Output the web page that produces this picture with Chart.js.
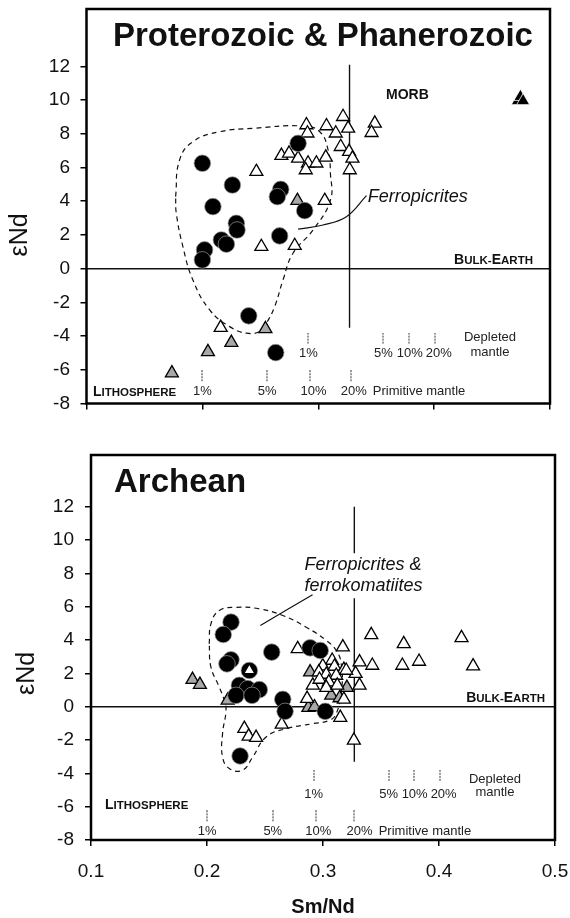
<!DOCTYPE html>
<html>
<head>
<meta charset="utf-8">
<script src="https://cdn.jsdelivr.net/npm/chart.js@4.4.0/dist/chart.umd.min.js"></script>
<style>
  html, body { margin: 0; padding: 0; background: #fff; }
  #wrap { position: relative; width: 570px; height: 918px; }
  canvas { position: absolute; left: 0; }
  #cTop { top: 0; }
  #cBot { top: 430px; }
</style>
</head>
<body>
<div id="wrap">
  <canvas id="cTop" width="570" height="430"></canvas>
  <canvas id="cBot" width="570" height="488"></canvas>
</div>
<script>
const FONT = "'Liberation Sans', Arial, Helvetica, sans-serif";

// Axis ticks
const yTicks = [-8, -6, -4, -2, 0, 2, 4, 6, 8, 10, 12];
const xTicks = [0.1, 0.2, 0.3, 0.4, 0.5];

// ---------- Proterozoic & Phanerozoic ----------
const pCircleX = [0.2826, 0.2000, 0.2259, 0.2676, 0.2647, 0.2091, 0.2883, 0.2293, 0.2299, 0.2164, 0.2207, 0.2667, 0.2019, 0.2000, 0.2400, 0.2633];
const pCircleY = [7.43, 6.25, 4.96, 4.70, 4.27, 3.68, 3.44, 2.69, 2.29, 1.70, 1.45, 1.94, 1.11, 0.52, -2.80, -4.98];

const pOpenX = [0.2898, 0.2907, 0.3071, 0.3151, 0.3214, 0.3258, 0.3488, 0.3460, 0.3194, 0.3266, 0.3295, 0.3272,
                0.2682, 0.2748, 0.2826, 0.2912, 0.2984, 0.3065, 0.2892, 0.2466, 0.3056, 0.2509, 0.2797, 0.2158];
const pOpenY = [8.52, 8.03, 8.46, 8.03, 9.01, 8.32, 8.62, 8.06, 7.23, 6.94, 6.54, 5.85,
                6.70, 6.84, 6.54, 6.25, 6.25, 6.60, 5.85, 5.75, 4.03, 1.30, 1.36, -3.50];

const pGreyX = [0.2820, 0.2544, 0.2250, 0.2048, 0.1737];
const pGreyY = [4.03, -3.57, -4.39, -4.94, -6.20];

const morbX = [0.4722, 0.4745, 0.4768];
const morbY = [9.95, 10.2, 9.95];

// Ferropicrite field outline
const pEnvX = [0.1769, 0.1803, 0.1918, 0.2149, 0.2437, 0.2869, 0.3013, 0.3085, 0.3105, 0.3105, 0.2955, 0.2782,
               0.2696, 0.2624, 0.2552, 0.2495, 0.2380, 0.2235, 0.2063, 0.1918, 0.1832, 0.1775, 0.1769];
const pEnvY = [4.27, 6.44, 7.53, 8.12, 8.32, 8.46, 8.12, 7.04, 5.66, 4.07, 2.29, 0.91,
               -0.67, -2.25, -3.24, -3.73, -3.83, -3.44, -2.45, -0.67, 1.30, 3.28, 4.27];

// Leader from the "Ferropicrites" label
const pLeadX = [0.3416, 0.3243, 0.3041, 0.2826];
const pLeadY = [4.33, 3.08, 2.59, 2.34];

// Mixing-model steps
const pctLabels = ['1%', '5%', '10%', '20%'];
const pDmX = [0.2915, 0.3563, 0.3785, 0.4010];
const pDmLabelX = [0.2915, 0.3563, 0.3790, 0.4040];
const pPmX = [0.2000, 0.2560, 0.2930, 0.3280];
const pPmLabelX = [0.2000, 0.2560, 0.2960, 0.3307];

// ---------- Archean ----------
const aCircleX = [0.2207, 0.2140, 0.2558, 0.2889, 0.2976, 0.2207, 0.2172, 0.2365, 0.2279, 0.2350, 0.2451, 0.2250, 0.2388, 0.2653, 0.2673, 0.3019, 0.2285];
const aCircleY = [5.07, 4.33, 3.27, 3.53, 3.37, 2.81, 2.57, 2.17, 1.28, 1.08, 1.02, 0.68, 0.68, 0.44, -0.28, -0.28, -2.96];

const aOpenX = [0.2782, 0.3171, 0.3416, 0.3696, 0.4194, 0.3315, 0.3425, 0.3684, 0.3828, 0.4294, 0.3281, 0.3315,
                0.2912, 0.2863, 0.2644, 0.3149, 0.3266, 0.2322, 0.2359, 0.2423, 0.3079, 0.2998, 0.3099, 0.3180,
                0.2964, 0.3028, 0.3114, 0.3200, 0.2970, 0.3050, 0.3028, 0.3123, 0.3180];
const aOpenY = [3.47, 3.57, 4.31, 3.77, 4.13, 2.67, 2.47, 2.47, 2.71, 2.43, 1.98, 1.28,
                1.28, 0.48, -1.06, -0.66, -2.02, -1.32, -1.78, -1.86, 2.77, 2.43, 2.41, 2.22,
                2.07, 1.93, 1.87, 2.17, 1.63, 1.47, 1.14, 1.28, 0.44];

const aGreyX = [0.1875, 0.1939, 0.2178, 0.2889, 0.3206, 0.3071, 0.3143, 0.2874, 0.2927];
const aGreyY = [1.62, 1.32, 0.38, 2.07, 1.14, 0.68, 0.52, -0.06, -0.02];

// open triangle plotted over a ferropicrite symbol
const aInnerX = [0.2365];
const aInnerY = [2.17];

const aEnvX = [0.2019, 0.2034, 0.2106, 0.2250, 0.2451, 0.2653, 0.2855, 0.3028, 0.3114, 0.3157, 0.3160, 0.3114,
               0.3056, 0.2912, 0.2682, 0.2509, 0.2394, 0.2307, 0.2192, 0.2134, 0.2134, 0.2164, 0.2149, 0.2106,
               0.2034, 0.2019];
const aEnvY = [3.77, 4.97, 5.77, 5.96, 5.87, 5.47, 4.77, 3.97, 3.37, 2.57, 0.98, -0.42,
               -0.82, -1.02, -1.32, -1.82, -3.02, -3.81, -3.71, -3.02, -1.62, -0.22, 0.38, 1.17,
               2.37, 3.77];

const aLeadX = [0.2910, 0.2460];
const aLeadY = [6.72, 4.87];

const aDmX = [0.2920, 0.3566, 0.3785, 0.4007];
const aDmLabelX = [0.2920, 0.3566, 0.3790, 0.4040];
const aPmX = [0.2002, 0.2572, 0.2940, 0.3270];
const aPmLabelX = [0.2002, 0.2567, 0.2960, 0.3315];

// Reference lines
const bulkEarth = 0;
const chondriteSmNd = 0.327;

// ---------- helpers ----------
const pts = (xs, ys) => xs.map((x, i) => ({ x: x, y: ys[i] }));
const flat = (xs, y) => xs.map(x => ({ x: x, y: y }));

function dashMark() {
  const c = document.createElement('canvas');
  c.width = 2; c.height = 12;
  const g = c.getContext('2d');
  g.fillStyle = '#9a9a9a';
  for (let y = 0; y < 12; y += 3) g.fillRect(0, y, 2, 2);
  return c;
}
const MARK = dashMark();

function lineDs(data, opts) {
  return Object.assign({
    data: data, showLine: true, pointRadius: 0, borderColor: '#111', borderWidth: 1.4,
    fill: false, tension: 0, order: 20
  }, opts || {});
}
function ptDs(data, style, bg, order, r, border, bw) {
  return {
    data: data, showLine: false, pointStyle: style, pointRadius: r, pointHoverRadius: r,
    backgroundColor: bg, borderColor: border || '#000', borderWidth: bw || 1.3,
    order: order
  };
}

function smallCaps(ctx, parts, x, y, align) {
  let w = 0;
  parts.forEach(p => { ctx.font = 'bold ' + p[1] + 'px ' + FONT; w += ctx.measureText(p[0]).width; });
  let cx = align === 'right' ? x - w : (align === 'center' ? x - w / 2 : x);
  ctx.textAlign = 'left';
  ctx.textBaseline = 'alphabetic';
  parts.forEach(p => {
    ctx.font = 'bold ' + p[1] + 'px ' + FONT;
    ctx.fillText(p[0], cx, y);
    cx += ctx.measureText(p[0]).width;
  });
}

function decorPlugin(spec) {
  return {
    id: 'decor',
    afterDatasetsDraw(chart) {
      const ctx = chart.ctx, a = chart.chartArea;
      const X = v => chart.scales.x.getPixelForValue(v);
      const Y = v => chart.scales.y.getPixelForValue(v);
      ctx.save();
      ctx.fillStyle = '#111';
      // frame
      ctx.strokeStyle = '#000';
      ctx.lineWidth = 2.5;
      ctx.strokeRect(a.left, a.top, a.right - a.left, a.bottom - a.top);
      // panel title
      ctx.font = 'bold 33px ' + FONT;
      ctx.textAlign = 'left';
      ctx.textBaseline = 'middle';
      ctx.fillText(spec.title, a.left + spec.titleDx, a.top + spec.titleDy);
      // italic field label
      ctx.font = 'italic 18px ' + FONT;
      spec.field.forEach(f => ctx.fillText(f[0], X(f[1]), Y(f[2])));
      // MORB
      if (spec.morb) {
        ctx.font = 'bold 14px ' + FONT;
        ctx.textAlign = 'center';
        ctx.fillText('MORB', X(spec.morb[0]), Y(spec.morb[1]));
      }
      // Bulk Earth and lithosphere
      smallCaps(ctx, [['B', 14], ['ULK-', 11.5], ['E', 14], ['ARTH', 11.5]], X(spec.bulk[0]), Y(spec.bulk[1]) + 5, 'right');
      smallCaps(ctx, [['L', 14], ['ITHOSPHERE', 11.5]], X(spec.litho[0]), Y(spec.litho[1]) + 5, 'center');
      // mixing-model labels
      ctx.font = '13px ' + FONT;
      ctx.textAlign = 'center';
      ctx.textBaseline = 'middle';
      ctx.fillStyle = '#222';
      spec.dmLabelX.forEach((x, i) => ctx.fillText(pctLabels[i], X(x), Y(spec.dmLabelY)));
      spec.pmLabelX.forEach((x, i) => ctx.fillText(pctLabels[i], X(x), Y(spec.pmLabelY)));
      ctx.fillText('Depleted', X(spec.dmText[0]), Y(spec.dmText[1]));
      ctx.fillText('mantle', X(spec.dmText[0]), Y(spec.dmText[2]));
      ctx.textAlign = 'left';
      ctx.fillText('Primitive mantle', X(spec.pmText[0]), Y(spec.pmText[1]));
      // y title
      ctx.fillStyle = '#111';
      ctx.save();
      ctx.translate(spec.yTitleX, Y(2));
      ctx.rotate(-Math.PI / 2);
      ctx.font = '25px ' + FONT;
      ctx.textAlign = 'center';
      ctx.textBaseline = 'middle';
      ctx.fillText('\u03B5Nd', 0, 0);
      ctx.restore();
      // x title
      if (spec.xTitle) {
        ctx.font = 'bold 20px ' + FONT;
        ctx.textAlign = 'center';
        ctx.textBaseline = 'middle';
        ctx.fillText(spec.xTitle, (a.left + a.right) / 2, spec.xTitleY);
      }
      ctx.restore();
    }
  };
}

function makeChart(id, g, datasets, spec) {
  return new Chart(document.getElementById(id), {
    type: 'scatter',
    data: { datasets: datasets },
    options: {
      responsive: false, animation: false, devicePixelRatio: 1,
      events: [],
      layout: { padding: { left: 0, right: g.right, top: g.top, bottom: 0 } },
      plugins: { legend: { display: false }, tooltip: { enabled: false } },
      scales: {
        x: {
          type: 'linear', min: 0.1, max: 0.5,
          afterBuildTicks: s => { s.ticks = xTicks.map(v => ({ value: v })); },
          afterFit: s => { s.height = g.xh; s.paddingLeft = 0; s.paddingRight = 0; },
          ticks: { display: g.xLabels, font: { family: FONT, size: 19 }, color: '#111', padding: g.xPad,
                   callback: v => Number(v).toFixed(1) },
          grid: { drawOnChartArea: false, drawTicks: true, tickLength: 6, color: '#000', tickColor: '#000', lineWidth: 1.5 },
          border: { display: false }
        },
        y: {
          type: 'linear', min: -8, max: g.ymax,
          afterBuildTicks: s => { s.ticks = yTicks.map(v => ({ value: v })); },
          afterFit: s => { s.width = g.yw; s.paddingTop = 0; s.paddingBottom = 0; },
          ticks: { font: { family: FONT, size: 19 }, color: '#111', padding: g.yPad },
          grid: { drawOnChartArea: false, drawTicks: true, tickLength: 6, color: '#000', tickColor: '#000', lineWidth: 1.5 },
          border: { display: false }
        }
      }
    },
    plugins: [decorPlugin(spec)]
  });
}

function panelDatasets(d) {
  const list = [
    lineDs(pts(d.envX, d.envY), { borderDash: [5, 4], borderWidth: 1.2, tension: 0.45, order: 30 }),
    lineDs([{ x: 0.1, y: bulkEarth }, { x: 0.5, y: bulkEarth }], { borderWidth: 1.5 }),
    lineDs(pts(d.leadX, d.leadY), { borderWidth: 1.2, tension: 0.4 }),
    ptDs(flat(d.dmX, d.dmY), MARK, '#999', 18, 6),
    ptDs(flat(d.pmX, d.pmY), MARK, '#999', 18, 6),
    ptDs(pts(d.openX, d.openY), 'triangle', '#fff', 6, 7.5),
    ptDs(pts(d.greyX, d.greyY), 'triangle', '#a8a8a8', 6, 7.5),
    ptDs(pts(d.circX, d.circY), 'circle', '#000', 4, 8.3, '#9a9a9a', 0.7)
  ];
  d.vSeg.forEach(s => list.push(lineDs([{ x: chondriteSmNd, y: s[0] }, { x: chondriteSmNd, y: s[1] }], { borderWidth: 1.4 })));
  if (d.morbX) list.push(ptDs(pts(d.morbX, d.morbY), 'triangle', '#000', 2, 7.5, '#fff', 0.8));
  if (d.innerX) list.push(ptDs(pts(d.innerX, d.innerY), 'triangle', '#fff', 1, 6.5));
  return list;
}

makeChart('cTop',
  { right: 20, top: 9, xh: 26.5, yw: 86.5, ymax: 15.4, xLabels: false, xPad: 0, yPad: 10.5 },
  panelDatasets({
    envX: pEnvX, envY: pEnvY, leadX: pLeadX, leadY: pLeadY,
    dmX: pDmX, dmY: -4.15, pmX: pPmX, pmY: -6.38,
    openX: pOpenX, openY: pOpenY, greyX: pGreyX, greyY: pGreyY, circX: pCircleX, circY: pCircleY,
    morbX: morbX, morbY: morbY, vSeg: [[12.1, -3.5]]
  }),
  {
    title: 'Proterozoic & Phanerozoic', titleDx: 26.5, titleDy: 27.7,
    field: [['Ferropicrites', 0.3428, 4.27]],
    morb: [0.3769, 10.3],
    bulk: [0.4853, 0.575], litho: [0.1415, -7.23],
    dmLabelX: pDmLabelX, dmLabelY: -5.05, pmLabelX: pPmLabelX, pmLabelY: -7.3,
    dmText: [0.4482, -4.1, -4.95], pmText: [0.3471, -7.3],
    yTitleX: 20
  });

makeChart('cBot',
  { right: 15, top: 25, xh: 78, yw: 91, ymax: 15.1, xLabels: true, xPad: 14, yPad: 11 },
  panelDatasets({
    envX: aEnvX, envY: aEnvY, leadX: aLeadX, leadY: aLeadY,
    dmX: aDmX, dmY: -4.15, pmX: aPmX, pmY: -6.58,
    openX: aOpenX, openY: aOpenY, greyX: aGreyX, greyY: aGreyY, circX: aCircleX, circY: aCircleY,
    innerX: aInnerX, innerY: aInnerY, vSeg: [[12, 9.2], [6.5, -3.3]]
  }),
  {
    title: 'Archean', titleDx: 23, titleDy: 28,
    field: [['Ferropicrites &', 0.284, 8.5], ['ferrokomatiites', 0.284, 7.26]],
    bulk: [0.4914, 0.575], litho: [0.148, -5.85],
    dmLabelX: aDmLabelX, dmLabelY: -5.27, pmLabelX: aPmLabelX, pmLabelY: -7.5,
    dmText: [0.4482, -4.35, -5.15], pmText: [0.348, -7.5],
    yTitleX: 27, xTitle: 'Sm/Nd', xTitleY: 477
  });
</script>
</body>
</html>
